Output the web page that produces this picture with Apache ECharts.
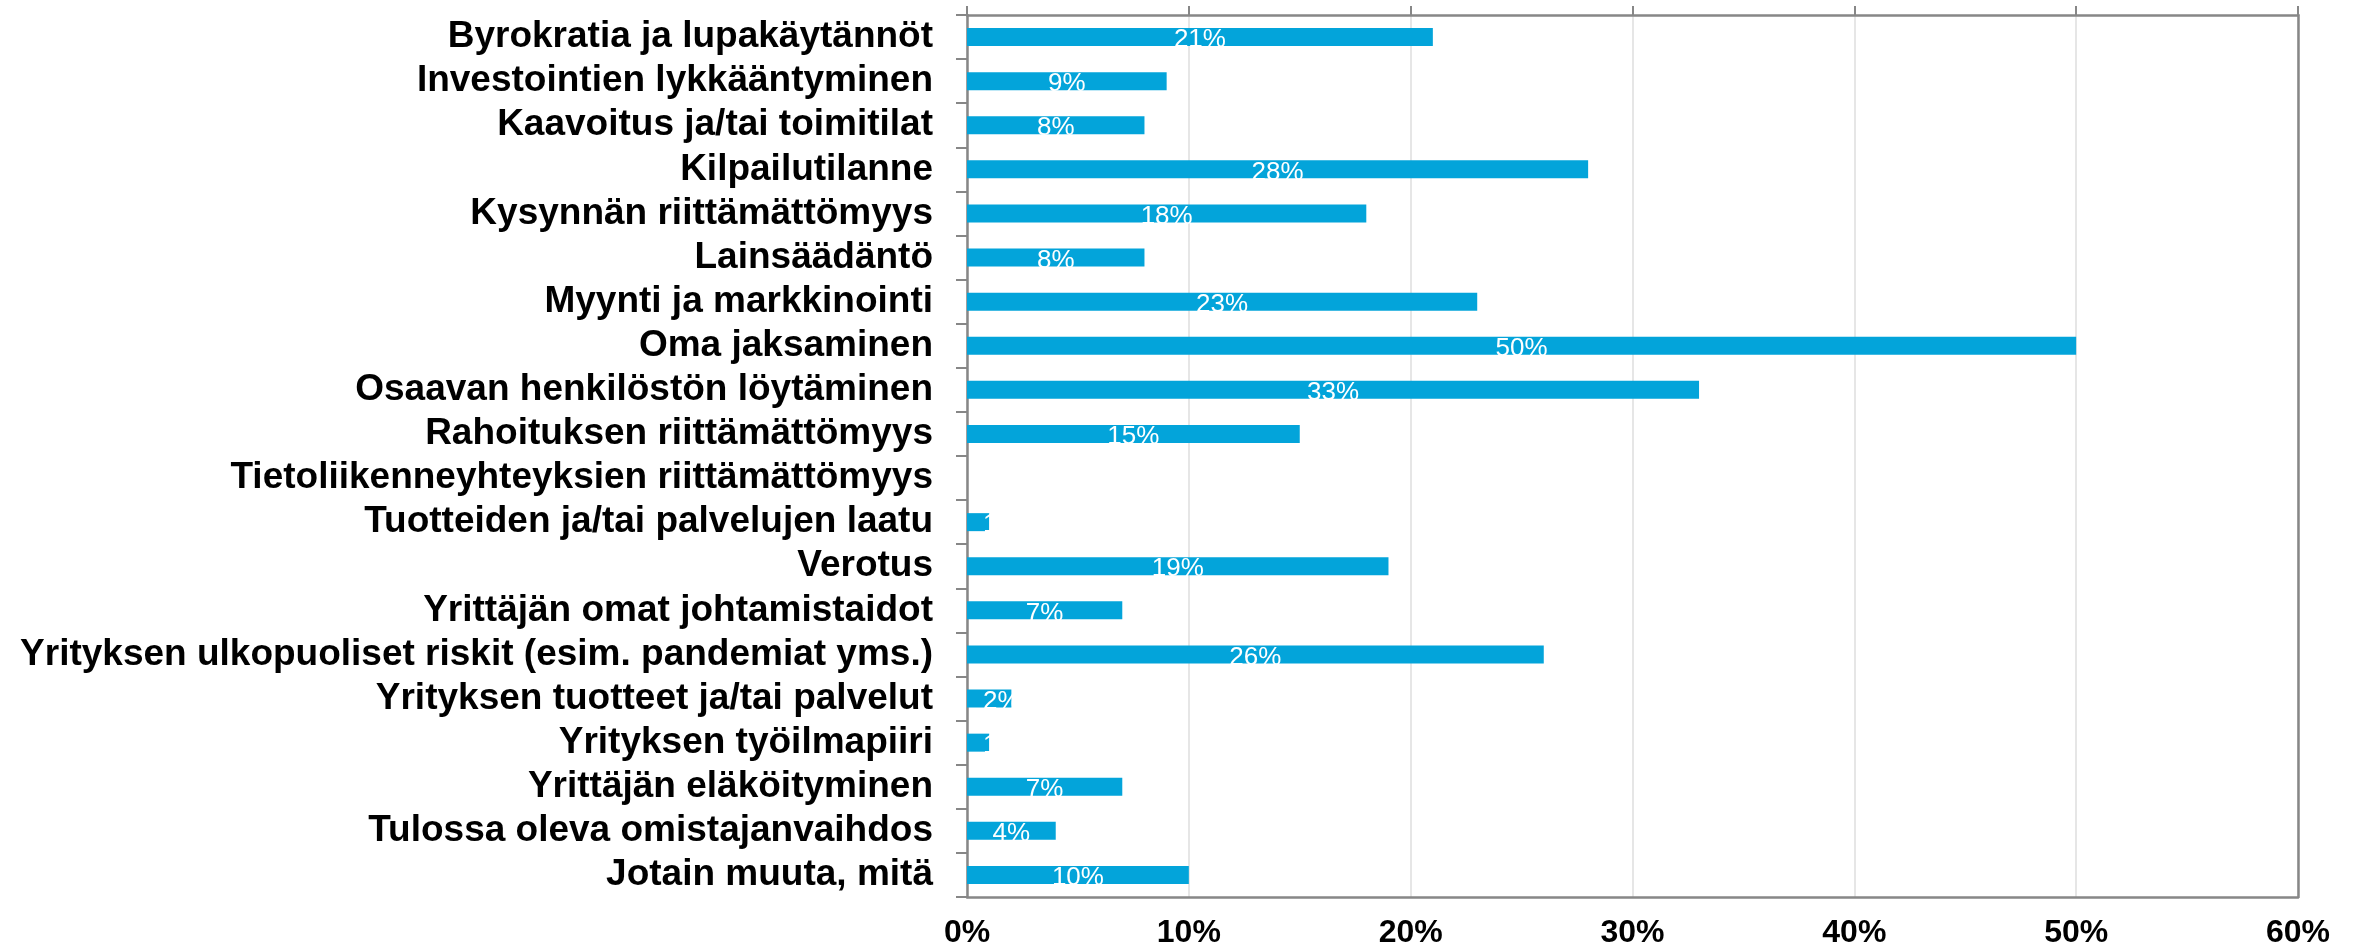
<!DOCTYPE html>
<html>
<head>
<meta charset="utf-8">
<script src="https://cdn.jsdelivr.net/npm/echarts@6/dist/echarts.min.js"></script>
<style>
html,body{margin:0;padding:0;background:#fff;}
#c{width:2358px;height:949px;}
</style>
</head>
<body>
<div id="c"></div>
<script>
const categories = [
  "Byrokratia ja lupakäytännöt",
  "Investointien lykkääntyminen",
  "Kaavoitus ja/tai toimitilat",
  "Kilpailutilanne",
  "Kysynnän riittämättömyys",
  "Lainsäädäntö",
  "Myynti ja markkinointi",
  "Oma jaksaminen",
  "Osaavan henkilöstön löytäminen",
  "Rahoituksen riittämättömyys",
  "Tietoliikenneyhteyksien riittämättömyys",
  "Tuotteiden ja/tai palvelujen laatu",
  "Verotus",
  "Yrittäjän omat johtamistaidot",
  "Yrityksen ulkopuoliset riskit (esim. pandemiat yms.)",
  "Yrityksen tuotteet ja/tai palvelut",
  "Yrityksen työilmapiiri",
  "Yrittäjän eläköityminen",
  "Tulossa oleva omistajanvaihdos",
  "Jotain muuta, mitä"
];
const values = [21, 9, 8, 28, 18, 8, 23, 50, 33, 15, 0, 1, 19, 7, 26, 2, 1, 7, 4, 10];
const xTicks = { min: 0, max: 60, interval: 10 };

const chart = echarts.init(document.getElementById('c'));
const axisGray = '#878787';
const font = 'Liberation Sans, Arial, sans-serif';

// small bars: label pinned near the axis (like the original), rest centred
const seriesData = values.map(v => v <= 2 && v > 0
  ? { value: v, label: { position: 'insideLeft', distance: 16 } }
  : v);

chart.setOption({
  animation: false,
  backgroundColor: '#ffffff',
  grid: { left: 967, right: 60, top: 15, bottom: 51, containLabel: false },
  xAxis: [
    {
      type: 'value', position: 'bottom',
      min: xTicks.min, max: xTicks.max, interval: xTicks.interval,
      axisLine: { show: true, lineStyle: { color: axisGray, width: 2.5 } },
      axisTick: { show: false },
      axisLabel: {
        formatter: v => v + '%', margin: 20,
        color: '#000', fontFamily: font,
        fontWeight: 'bold', fontSize: 32
      },
      splitLine: { show: true, lineStyle: { color: '#dedede', width: 1.5 } }
    },
    {
      type: 'value', position: 'top',
      min: xTicks.min, max: xTicks.max, interval: xTicks.interval,
      axisLine: { show: true, onZero: false, lineStyle: { color: axisGray, width: 2.5 } },
      axisTick: { show: true, inside: false, length: 9, lineStyle: { color: axisGray, width: 2 } },
      axisLabel: { show: false },
      splitLine: { show: false }
    }
  ],
  yAxis: [
    {
      type: 'category', data: categories, inverse: true, position: 'left',
      axisLine: { show: true, lineStyle: { color: axisGray, width: 2.5 } },
      axisTick: { show: true, length: 11, interval: 0, lineStyle: { color: axisGray, width: 2 } },
      axisLabel: {
        interval: 0, hideOverlap: false,
        margin: 34, color: '#000', fontFamily: font,
        fontWeight: 'bold', fontSize: 37
      }
    },
    {
      type: 'category', data: categories, inverse: true, position: 'right',
      axisLine: { show: true, onZero: false, lineStyle: { color: axisGray, width: 2.5 } },
      axisTick: { show: false },
      axisLabel: { show: false }
    }
  ],
  series: [{
    type: 'bar',
    data: seriesData,
    xAxisIndex: 0, yAxisIndex: 0,
    barWidth: 18,
    itemStyle: { color: '#03A4DA' },
    label: {
      show: true, position: 'inside', offset: [0, 3],
      color: '#ffffff', fontFamily: font,
      fontSize: 26,
      formatter: p => p.value === 0 ? '' : p.value + '%'
    }
  }]
});
</script>
</body>
</html>
